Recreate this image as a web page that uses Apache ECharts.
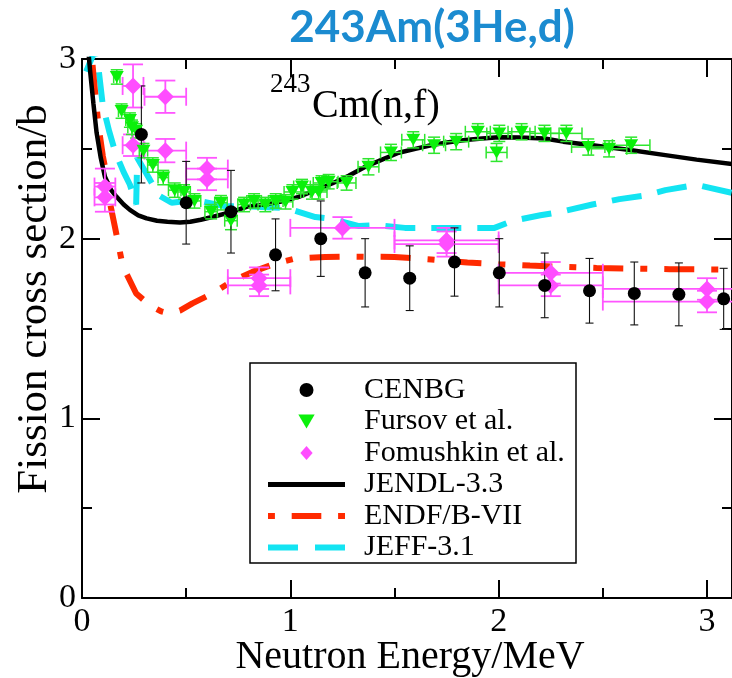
<!DOCTYPE html>
<html>
<head>
<meta charset="utf-8">
<script src="https://cdn.jsdelivr.net/npm/echarts@6/dist/echarts.min.js"></script>
<style>html,body{margin:0;padding:0;background:#fff}#c{width:732px;height:678px}</style>
</head>
<body>
<div id="c"></div>
<script>
// ---- data ----
const cenbgX = [0.285, 0.50, 0.715, 0.929, 1.146, 1.359, 1.573, 1.788, 2.003, 2.221, 2.436, 2.651, 2.865, 3.08];
const cenbgY = [2.58, 2.20, 2.15, 1.91, 2.00, 1.81, 1.78, 1.87, 1.81, 1.74, 1.71, 1.695, 1.69, 1.665];
const cenbgYErr = [0.27, 0.23, 0.23, 0.20, 0.21, 0.19, 0.18, 0.19, 0.19, 0.18, 0.18, 0.175, 0.175, 0.17];

const fursovX = [0.167, 0.19, 0.23, 0.24, 0.26, 0.295, 0.34, 0.39, 0.445, 0.49, 0.54, 0.62, 0.667, 0.715, 0.778, 0.826, 0.88, 0.93, 0.977, 1.01, 1.056, 1.104, 1.136, 1.15, 1.184, 1.27, 1.375, 1.483, 1.59, 1.69, 1.796, 1.9, 1.99, 2.003, 2.11, 2.22, 2.325, 2.43, 2.53, 2.636];
const fursovY = [2.90, 2.71, 2.66, 2.62, 2.60, 2.49, 2.41, 2.34, 2.27, 2.26, 2.21, 2.15, 2.20, 2.10, 2.19, 2.21, 2.19, 2.21, 2.205, 2.26, 2.29, 2.26, 2.26, 2.31, 2.317, 2.31, 2.40, 2.48, 2.55, 2.52, 2.54, 2.595, 2.48, 2.586, 2.595, 2.586, 2.586, 2.51, 2.50, 2.52];
const fursovXErr = [0.015, 0.015, 0.02, 0.02, 0.02, 0.02, 0.025, 0.025, 0.03, 0.03, 0.03, 0.03, 0.03, 0.03, 0.03, 0.035, 0.035, 0.035, 0.035, 0.04, 0.04, 0.04, 0.04, 0.04, 0.045, 0.045, 0.05, 0.05, 0.055, 0.055, 0.06, 0.06, 0.05, 0.06, 0.065, 0.07, 0.075, 0.08, 0.085, 0.09];
const fursovYErr = [0.04, 0.04, 0.04, 0.04, 0.04, 0.04, 0.04, 0.04, 0.04, 0.04, 0.04, 0.04, 0.04, 0.05, 0.04, 0.04, 0.04, 0.04, 0.04, 0.04, 0.04, 0.04, 0.04, 0.04, 0.04, 0.04, 0.045, 0.045, 0.045, 0.045, 0.045, 0.045, 0.05, 0.045, 0.045, 0.045, 0.045, 0.045, 0.045, 0.045];

const fomX = [0.11, 0.11, 0.245, 0.245, 0.40, 0.40, 0.60, 0.60, 0.85, 0.85, 1.25, 1.75, 1.75, 2.25, 2.25, 3.0, 3.0];
const fomY = [2.29, 2.23, 2.85, 2.52, 2.79, 2.49, 2.39, 2.33, 1.78, 1.74, 2.06, 1.99, 1.97, 1.81, 1.74, 1.72, 1.65];
const fomXErr = [0.05, 0.05, 0.05, 0.05, 0.1, 0.1, 0.1, 0.1, 0.15, 0.15, 0.25, 0.25, 0.25, 0.25, 0.25, 0.5, 0.5];
const fomYErr = [0.10, 0.08, 0.12, 0.06, 0.09, 0.065, 0.06, 0.06, 0.06, 0.06, 0.06, 0.07, 0.07, 0.06, 0.06, 0.06, 0.06];

const jendlX = [0.03, 0.04, 0.055, 0.07, 0.09, 0.11, 0.14, 0.166, 0.2, 0.23, 0.27, 0.31, 0.36, 0.41, 0.47, 0.52, 0.57, 0.63, 0.71, 0.79, 0.87, 0.95, 1.04, 1.12, 1.2, 1.28, 1.36, 1.44, 1.52, 1.6, 1.68, 1.76, 1.84, 1.92, 2.0, 2.1, 2.22, 2.31, 2.45, 2.63, 2.8, 2.95, 3.12];
const jendlY = [3.05, 2.92, 2.75, 2.59, 2.45, 2.345, 2.27, 2.233, 2.19, 2.16, 2.13, 2.113, 2.1, 2.094, 2.09, 2.094, 2.105, 2.122, 2.146, 2.177, 2.19, 2.205, 2.233, 2.27, 2.307, 2.35, 2.40, 2.44, 2.478, 2.50, 2.521, 2.537, 2.549, 2.558, 2.564, 2.563, 2.558, 2.54, 2.52, 2.493, 2.465, 2.44, 2.415];

const endfX = [0.04, 0.06, 0.08, 0.1, 0.11, 0.134, 0.158, 0.19, 0.213, 0.26, 0.325, 0.38, 0.42, 0.47, 0.53, 0.627, 0.715, 0.818, 0.93, 1.025, 1.168, 1.3, 1.5, 1.677, 1.85, 2.0, 2.15, 2.47, 2.82, 3.12];
const endfY = [3.1, 2.85, 2.62, 2.46, 2.4, 2.2, 2.066, 1.88, 1.806, 1.695, 1.63, 1.595, 1.583, 1.60, 1.64, 1.695, 1.76, 1.815, 1.862, 1.89, 1.898, 1.9, 1.898, 1.884, 1.867, 1.858, 1.85, 1.837, 1.83, 1.828];

const jeffX = [0.02, 0.045, 0.065, 0.075, 0.1, 0.13, 0.16, 0.2, 0.23, 0.26, 0.265, 0.32, 0.37, 0.43, 0.5, 0.56, 0.69, 0.8, 0.98, 1.12, 1.2, 1.33, 1.42, 1.55, 1.7, 1.85, 1.98, 2.07, 2.2, 2.3, 2.45, 2.58, 2.7, 2.8, 2.95, 3.12];
const jeffY = [2.93, 3.0, 3.05, 2.99, 2.74, 2.60, 2.48, 2.37, 2.30, 2.19, 2.45, 2.34, 2.24, 2.20, 2.21, 2.21, 2.18, 2.18, 2.17, 2.12, 2.11, 2.07, 2.075, 2.06, 2.06, 2.06, 2.06, 2.10, 2.13, 2.15, 2.19, 2.22, 2.24, 2.27, 2.30, 2.255];

const xMajorTicks = [0, 1, 2, 3];
const xMinorTicks = [0.5, 1.5, 2.5];
const legendNames = ['CENBG', 'Fursov et al.', 'Fomushkin et al.', 'JENDL-3.3', 'ENDF/B-VII', 'JEFF-3.1'];

// ---- helpers ----
const zip = (a, b) => a.map((v, i) => [v, b[i]]);
const zip4 = (a, b, c, d) => a.map((v, i) => [v, b[i], c[i], d[i]]);
const SERIF = 'Liberation Serif';

function errRender(capX, capY, color, lw) {
  return function (params, api) {
    const x = api.value(0), y = api.value(1), ex = api.value(2), ey = api.value(3);
    const ch = [];
    const st = { stroke: color, lineWidth: lw };
    if (ey > 0) {
      const a = api.coord([x, y - ey]), b = api.coord([x, y + ey]);
      ch.push({ type: 'line', shape: { x1: a[0], y1: a[1], x2: b[0], y2: b[1] }, style: st });
      ch.push({ type: 'line', shape: { x1: a[0] - capX / 2, y1: a[1], x2: a[0] + capX / 2, y2: a[1] }, style: st });
      ch.push({ type: 'line', shape: { x1: b[0] - capX / 2, y1: b[1], x2: b[0] + capX / 2, y2: b[1] }, style: st });
    }
    if (ex > 0) {
      const a = api.coord([x - ex, y]), b = api.coord([x + ex, y]);
      ch.push({ type: 'line', shape: { x1: a[0], y1: a[1], x2: b[0], y2: b[1] }, style: st });
      ch.push({ type: 'line', shape: { x1: a[0], y1: a[1] - capY / 2, x2: a[0], y2: a[1] + capY / 2 }, style: st });
      ch.push({ type: 'line', shape: { x1: b[0], y1: b[1] - capY / 2, x2: b[0], y2: b[1] + capY / 2 }, style: st });
    }
    return { type: 'group', children: ch };
  };
}

const axisLineStyle = { color: '#000', width: 2 };
function xAxisDef(pos, ticks, len, line, labels) {
  return {
    type: 'value', position: pos, min: 0, max: 3.12, gridIndex: 0,
    axisLine: { show: line, onZero: false, lineStyle: axisLineStyle },
    axisTick: { show: true, inside: true, length: len, customValues: ticks, lineStyle: axisLineStyle },
    axisLabel: labels ? { show: true, customValues: ticks, fontFamily: SERIF, fontSize: 34, color: '#000', margin: 7 } : { show: false },
    splitLine: { show: false }
  };
}
function yAxisDef(pos, labels) {
  return {
    type: 'value', position: pos, min: 0, max: 3, interval: 1, gridIndex: 0,
    axisLine: { show: true, onZero: false, lineStyle: axisLineStyle },
    axisTick: { show: true, inside: true, length: 18, lineStyle: axisLineStyle },
    minorTick: { show: true, splitNumber: 2, length: 10, lineStyle: axisLineStyle },
    axisLabel: labels ? { show: true, fontFamily: SERIF, fontSize: 34, color: '#000', margin: 6 } : { show: false },
    splitLine: { show: false }, minorSplitLine: { show: false }
  };
}

const triDown = 'path://M0,0 L14,0 L7,12 Z';
const diamondIcon = 'path://M7,0 L14,8 L7,16 L0,8 Z';
const legendIcons = [
  'circle',
  triDown,
  diamondIcon,
  'path://M0,0h77v5h-77z',
  'path://M0,0h7v6h-7z M24,0h30v6h-30z M71,0h7v6h-7z',
  'path://M0,0h30v6h-30z M47,0h30v6h-30z'
];
const legendColors = ['#000', '#0bf00b', '#ff4dff', '#000', '#ff2a00', '#13e4f2'];

const chart = echarts.init(document.getElementById('c'), null, { renderer: 'canvas' });
chart.setOption({
  animation: false,
  backgroundColor: '#fff',
  grid: { left: 82, top: 59, right: -4, bottom: 80, containLabel: false },
  xAxis: [
    xAxisDef('bottom', xMajorTicks, 18, true, true),
    xAxisDef('bottom', xMinorTicks, 10, false, false),
    xAxisDef('top', xMajorTicks, 18, true, false),
    xAxisDef('top', xMinorTicks, 10, false, false)
  ],
  yAxis: [yAxisDef('left', true), yAxisDef('right', false)],
  legend: {
    orient: 'vertical', left: 263, top: 370,
    itemWidth: 77, itemHeight: 14, itemGap: 1.5,
    symbolKeepAspect: true,
    data: legendNames.map((n, i) => ({ name: n, icon: legendIcons[i], itemStyle: { color: legendColors[i] } })),
    textStyle: { fontFamily: SERIF, fontSize: 30, color: '#000', lineHeight: 30, padding: [0, 0, 0, 14] },
    selectedMode: false, z: 6
  },
  graphic: [
    { type: 'rect', shape: { x: 250, y: 363, width: 326, height: 200 }, style: { fill: '#fff', stroke: '#000', lineWidth: 1.5 }, z: 5 },
    { type: 'text', x: 432, y: 28, style: { text: '243Am(3He,d)', font: 'bold 44px Lato', fill: '#1b8bd0', textAlign: 'center', textVerticalAlign: 'middle' }, z: 10 },
    { type: 'text', x: 270, y: 85, style: { text: '243', font: '27px "Liberation Serif"', fill: '#000', textAlign: 'left', textVerticalAlign: 'middle' }, z: 10 },
    { type: 'text', x: 312, y: 106, style: { text: 'Cm(n,f)', font: '40px "Liberation Serif"', fill: '#000', textAlign: 'left', textVerticalAlign: 'middle' }, z: 10 },
    { type: 'text', x: 410, y: 657, style: { text: 'Neutron Energy/MeV', font: '40px "Liberation Serif"', fill: '#000', textAlign: 'center', textVerticalAlign: 'middle' }, z: 10 },
    { type: 'text', x: 35, y: 299, rotation: Math.PI / 2, style: { text: 'Fission cross section/b', font: '43px "Liberation Serif"', fill: '#000', textAlign: 'center', textVerticalAlign: 'middle' }, z: 10 }
  ],
  series: [
    { name: 'JEFF-3.1', type: 'line', data: zip(jeffX, jeffY), symbol: 'none', clip: true, z: 2,
      lineStyle: { color: '#13e4f2', width: 6, type: [30, 16], cap: 'butt' }, itemStyle: { color: '#13e4f2' } },
    { name: 'ENDF/B-VII', type: 'line', data: zip(endfX, endfY), symbol: 'none', clip: true, z: 2,
      lineStyle: { color: '#ff2a00', width: 6, type: [7, 17, 30, 17], cap: 'butt' }, itemStyle: { color: '#ff2a00' } },
    { name: 'JENDL-3.3', type: 'line', data: zip(jendlX, jendlY), symbol: 'none', clip: true, z: 2,
      lineStyle: { color: '#000', width: 4.5 }, itemStyle: { color: '#000' } },
    { name: 'Fomushkin err', type: 'custom', clip: true, z: 3, data: zip4(fomX, fomY, fomXErr, fomYErr),
      renderItem: errRender(20, 18, '#ff55ff', 1.8) },
    { name: 'Fomushkin et al.', type: 'scatter', data: zip(fomX, fomY), symbol: 'diamond', symbolSize: 17, z: 3,
      itemStyle: { color: '#ff4dff', opacity: 1 } },
    { name: 'Fursov err', type: 'custom', clip: true, z: 3, data: zip4(fursovX, fursovY, fursovXErr, fursovYErr),
      renderItem: errRender(12, 12, '#2ee62e', 1.5) },
    { name: 'Fursov et al.', type: 'scatter', data: zip(fursovX, fursovY), symbol: triDown, symbolSize: [14, 12], z: 3,
      itemStyle: { color: '#0bf00b', opacity: 1 } },
    { name: 'CENBG err', type: 'custom', clip: true, z: 3, data: zip4(cenbgX, cenbgY, cenbgX.map(() => 0), cenbgYErr),
      renderItem: errRender(8, 0, '#111', 1.1) },
    { name: 'CENBG', type: 'scatter', data: zip(cenbgX, cenbgY), symbol: 'circle', symbolSize: 13, z: 3,
      itemStyle: { color: '#000', opacity: 1 } }
  ]
});
</script>
</body>
</html>
